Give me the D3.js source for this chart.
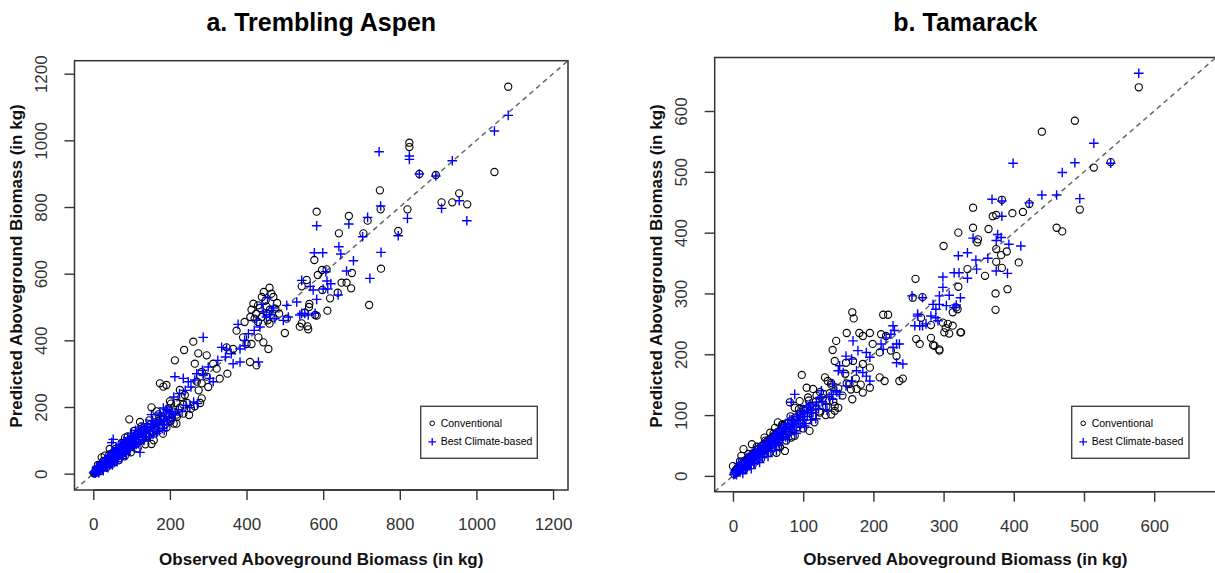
<!DOCTYPE html>
<html><head><meta charset="utf-8">
<script src="https://cdn.jsdelivr.net/npm/d3@7"></script>
<style>body{margin:0;background:#fff} text{font-family:"Liberation Sans",Arial,Helvetica,sans-serif}</style>
</head><body><svg id="c" width="1215" height="573"></svg>
<script>
const aspenTicks=[0,200,400,600,800,1000,1200];
const tamarackTicks=[0,100,200,300,400,500,600];
const seriesNames=["Conventional","Best Climate-based"];
const titles=["a. Trembling Aspen","b. Tamarack"];
const xLabel="Observed Aboveground Biomass (in kg)";
const yLabel="Predicted Aboveground Biomass (in kg)";

// [observed, predicted] pairs
const aspenConventional=[
[1083,1161],[1047,905],[825,980],[825,993],[851,899],[894,896],[748,850],[750,793],[820,793],[796,728],[909,814],[937,814],[955,841],[976,808],
[583,786],[667,773],[716,759],[705,721],[641,721],[577,641],[751,615],[675,602],[597,611],[609,613],[586,596],[648,573],[661,573],[673,556],
[638,543],[618,526],[564,509],[720,506],[611,489],[579,476],[583,474],[559,442],[544,451],[557,581],[544,562],[598,551],[552,483],
[94,163],[122,155],[143,113],[152,89],[83,108],[91,99],[43,74],[52,64],[30,54],[22,49],[161,133],[191,138],[217,150],[217,177],[204,167],
[152,199],[165,187],[200,217],[203,210],[217,212],[235,207],[283,226],[279,212],[265,202],[226,251],[239,236],[174,271],[183,261],[191,266],
[270,276],[283,271],[283,305],[296,291],[313,330],[322,315],[265,330],[213,340],[274,361],[296,355],[237,371],[261,396],[348,379],[365,374],
[391,409],[400,389],[413,389],[374,429],[426,325],[409,335],[457,374],[431,409],[444,394],[500,422],[539,441],[561,433],[563,500],[505,465],
[413,492],[435,497],[452,502],[461,492],[421,465],[440,470],[455,460],[470,468],[430,455],[460,450],
[445,545],[460,558],[470,530],[450,520],[480,512],[430,505],[418,510],[465,540],[440,530],[475,495],[485,480],[425,480],[410,470],[395,455],[455,480],
[2,1],[4,5],[5,3],[7,8],[8,6],[9,11],[11,8],[12,14],[14,11],[15,17],[16,12],[18,21],[19,15],[21,24],[22,18],[24,27],[25,20],[27,31],[28,23],
[30,35],[31,25],[33,38],[35,28],[36,42],[38,31],[40,45],[41,34],[43,49],[45,37],[47,53],[48,40],[50,57],[52,43],[54,61],[56,46],[58,65],
[60,50],[62,69],[64,53],[66,73],[68,57],[70,78],[72,60],[75,82],[77,63],[79,87],[81,67],[84,92],[86,71],[89,96],[91,75],[94,101],[96,80],
[99,106],[102,84],[105,111],[108,88],[111,116],[114,93],[118,121],[121,98],[125,128],[129,104],[133,133],[137,110],[141,140],[146,117],
[150,147],[155,124],[160,154],[165,131],[170,160],[176,140],[182,168],[188,148],[195,176],[202,158],[210,186],[218,170],[226,198],[235,180],
[245,212],[255,195],
[12,26],[18,8],[26,38],[34,18],[42,58],[50,30],[58,74],[66,40],[74,92],[82,52],[90,112],[98,64],[106,128],[116,76],[126,142],[136,88],
[146,160],[158,100],[170,178],[182,120],[196,196],[210,150],[230,230],[250,176],[275,250],[300,260],[330,285],[350,300]
];
const aspenClimate=[
[1083,1075],[1047,1028],[937,939],[746,966],[825,953],[825,943],[851,899],[894,893],[750,803],[820,766],[796,714],[909,796],[955,819],[975,759],
[583,744],[667,749],[716,769],[703,711],[641,681],[646,659],[577,663],[599,663],[751,664],[679,639],[661,608],[722,586],[610,578],[620,570],
[600,554],[612,554],[583,523],[639,536],[574,551],[544,481],[561,476],[544,580],[566,562],[607,606],
[378,448],[287,409],[335,379],[348,374],[383,374],[396,384],[365,330],[383,335],[431,335],[426,460],[452,470],[444,485],[496,460],[509,470],
[539,476],[552,481],[579,481],[505,505],[531,515],[466,490],[474,465],[213,291],[235,286],[248,276],[270,300],[287,296],[304,286],[313,276],
[265,281],[183,197],[191,192],[200,187],[152,177],[174,182],[122,64],[52,103],[48,93],[440,508],[455,528],[470,497],[460,477],[420,430],
[435,440],[405,420],[395,400],[360,360],[345,350],[325,340],[300,320],[285,310],[255,260],[240,250],[225,240],[210,230],
[1,2],[3,3],[4,6],[5,4],[6,8],[7,6],[8,10],[9,7],[10,12],[11,9],[12,14],[13,11],[14,16],[15,13],[16,18],[17,15],[18,20],[19,17],[20,23],
[21,19],[22,25],[23,21],[24,27],[25,23],[26,30],[27,25],[28,32],[29,27],[30,34],[31,29],[32,37],[33,31],[34,39],[35,33],[36,41],[37,35],
[38,44],[39,37],[40,46],[41,39],[42,48],[43,41],[44,51],[45,43],[46,53],[48,45],[49,56],[50,48],[52,59],[53,50],[55,62],[56,52],[58,66],
[59,55],[61,69],[62,58],[64,72],[65,60],[67,75],[68,63],[70,79],[72,66],[74,83],[75,69],[77,86],[79,72],[81,90],[83,76],[85,94],[87,80],
[89,98],[91,84],[94,102],[96,88],[99,107],[101,92],[104,111],[107,97],[110,116],[113,102],[116,121],[120,108],[124,127],[128,115],[132,134],
[137,122],[142,140],[147,130],[152,147],[158,138],[164,155],[170,147],[176,163],[183,156],[190,172],[198,166],[206,182],[214,176],[222,192],
[232,186],[242,205],[252,198],[262,215],[272,210],
[10,22],[15,6],[20,32],[25,12],[30,42],[35,20],[40,55],[45,28],[50,65],[55,36],[60,78],[65,45],[70,88],[75,52],[80,98],[85,62],[90,108],
[95,70],[100,120],[105,80],[110,130],[118,90],[125,140],[132,100],[140,150],[148,110],[155,160],[165,120],[175,175],[185,130],[195,190],[205,160],
[3,6],[6,2],[9,14],[12,5],[15,20],[18,10],[21,26],[24,15],[27,32],[30,20],[33,38],[36,25],[39,44],[42,30],[45,50],[48,35],[51,56],[54,40],
[57,62],[60,45],[63,68],[66,50],[69,74],[72,56],[75,80],[78,60],[81,86],[84,66],[87,92],[90,72],[93,98],[96,77],[100,104],[104,82],[108,112],
[112,88],[116,118],[120,95],[126,124],[132,102],[138,132],[144,110],[150,140],[156,118],[162,146],[168,126],[174,152],[180,136],[186,160],
[192,146],[8,18],[14,3],[20,28],[26,9],[32,40],[38,18],[44,52],[50,26],[56,64],[62,36],[68,76],[74,46],[80,90],[86,58]
];
const tamarackConventional=[
[578,639],[487,584],[440,566],[538,516],[514,507],[494,438],[461,408],[469,402],[383,454],[342,441],[370,427],[375,429],[398,432],[413,434],
[422,447],[342,408],[364,406],[321,400],[349,389],[348,384],[300,378],[375,373],[390,369],[382,363],[375,352],[407,351],[334,340],[359,329],
[383,342],[321,311],[374,300],[391,307],[374,273],[260,324],[256,293],[270,294],[318,277],[313,269],[268,260],[282,248],[303,243],[308,234],
[324,236],[261,225],[266,217],[282,227],[287,214],[294,208],
[170,269],[172,259],[214,265],[221,265],[320,274],[299,252],[306,250],[313,247],[325,236],[301,236],[285,215],[294,206],[162,235],[180,235],
[195,235],[185,230],[147,222],[211,233],[218,230],[142,207],[199,217],[209,203],[225,206],[233,197],[145,189],[161,186],[171,189],[185,184],
[195,178],[98,166],[209,162],[216,156],[237,156],[242,160],[131,162],[135,156],[140,153],[105,145],[114,143],[166,151],[176,143],[185,137],
[195,145],[133,123],[145,115],[124,104],[119,132],[107,129],[140,101],[145,107],[81,121],[88,112],[95,123],[100,110],[109,74],[64,88],[60,79],
[71,85],[79,71],[83,63],[67,47],[74,41],[62,38],[53,71],[45,63],[50,58],[27,52],[15,44],[22,30],[12,33],[0,16],[5,11],
[2,3],[3,8],[5,5],[6,12],[8,9],[9,15],[11,11],[12,19],[14,14],[15,22],[17,17],[18,26],[20,20],[21,28],[23,23],[24,31],[26,25],[27,35],
[29,29],[30,38],[32,32],[34,42],[35,35],[37,45],[39,38],[40,49],[42,41],[44,52],[46,44],[48,56],[50,47],[52,60],[54,50],[56,64],[58,53],
[60,68],[62,57],[64,72],[66,60],[68,77],[70,64],[72,82],[75,68],[78,86],[80,72],[83,91],[86,76],[89,96],[92,80],[95,102],[98,86],[102,108],
[106,92],[110,115],[114,98],[118,122],[123,106],[128,128],[133,114],[138,136],[143,122],[150,144],[156,132],[162,152],[168,142],[175,160],[182,150],
[10,24],[16,10],[22,36],[28,18],[34,48],[40,28],[46,58],[52,38],[58,70],[64,48],[70,84],[76,58],[82,98],[88,66],[94,110],[100,78],
[108,124],[116,88],[124,138],[132,100],[140,150],[150,112],[160,168],[170,126]
];
const tamarackClimate=[
[578,662],[514,547],[487,515],[469,499],[538,514],[399,514],[494,456],[440,462],[461,462],[422,449],[369,455],[383,452],[383,427],[342,391],
[377,397],[382,392],[375,387],[393,381],[410,378],[334,367],[321,362],[346,355],[363,358],[347,340],[375,337],[391,333],[315,334],[322,334],
[334,325],[299,327],[299,310],[255,296],[270,293],[294,296],[308,297],[324,293],[285,282],[304,280],[315,277],[263,266],[259,247],[270,247],
[289,260],[292,255],[237,217],
[263,263],[266,247],[275,250],[282,263],[289,274],[294,282],[318,281],[228,247],[230,239],[225,233],[218,227],[211,217],[214,208],[228,211],
[233,217],[242,184],[233,186],[171,222],[178,206],[190,203],[195,195],[161,197],[169,192],[152,181],[150,173],[157,170],[176,173],[185,170],
[190,164],[195,156],[169,156],[161,148],[142,151],[147,140],[140,134],[152,134],[126,140],[119,121],[124,129],[88,134],[83,121],[105,115],
[112,104],[95,101],[100,93],[81,93],[74,85],[67,77],
[1,2],[2,5],[3,3],[4,7],[5,5],[6,9],[7,7],[8,11],[9,9],[10,13],[11,11],[12,15],[13,13],[14,17],[15,15],[16,19],[17,17],[18,21],[19,19],
[20,23],[21,21],[22,25],[23,23],[24,27],[25,25],[26,29],[27,27],[28,31],[29,29],[30,33],[31,31],[32,35],[33,33],[34,37],[35,35],[36,39],
[37,37],[38,41],[40,40],[41,44],[43,43],[44,47],[46,45],[47,50],[49,48],[50,53],[52,51],[54,56],[56,54],[58,60],[60,57],[62,64],[64,61],
[66,68],[68,65],[70,72],[72,69],[75,76],[77,73],[80,80],[82,77],[85,85],[87,82],[90,90],[93,87],[96,96],[99,92],[102,102],[106,98],
[110,108],[114,104],[118,115],[122,110],[127,122],[132,118],[137,130],[142,126],[148,138],
[12,22],[18,10],[24,34],[30,20],[36,44],[42,30],[48,56],[54,40],[60,68],[66,50],[72,80],[78,60],[84,92],[90,70],[96,104],[102,82],
[110,118],[118,94],[126,130],[134,108],
[3,8],[5,2],[8,14],[10,6],[13,18],[15,10],[18,24],[20,14],[23,28],[25,18],[28,34],[30,22],[33,38],[35,26],[38,44],[40,32],[43,48],[45,36],
[48,54],[50,42],[53,58],[55,46],[58,64],[60,50],[63,70],[65,54],[68,74],[70,60],[73,80],[75,64],[78,86],[80,68],[84,92],[88,74],[92,98],
[96,80],[100,106],[104,86],[108,112],[112,92],[8,20],[14,4],[20,30],[26,12],[32,42],[38,22],[44,52],[50,32],[56,62],[62,42]
];

const panels=[
 {title:titles[0],conv:aspenConventional,clim:aspenClimate,ticks:aspenTicks,domain:[-49,1239],
  box:{x0:74.5,x1:568,y0:60.7,y1:490}},
 {title:titles[1],conv:tamarackConventional,clim:tamarackClimate,ticks:tamarackTicks,domain:[-26,688],
  box:{x0:714.7,x1:1216,y0:57.5,y1:491.7}}
];

const svg=d3.select("#c");
const plusPath="M-4.8,0H4.8M0,-4.8V4.8";
const blue="#0000ff";

panels.forEach((p,pi)=>{
  const b=p.box;
  const x=d3.scaleLinear().domain(p.domain).range([b.x0,b.x1]);
  const y=d3.scaleLinear().domain(p.domain).range([b.y1,b.y0]);
  const g=svg.append("g");
  const cx=(b.x0+b.x1)/2;

  g.append("text").attr("x",cx).attr("y",31).attr("text-anchor","middle")
   .attr("font-size",25).attr("font-weight","bold").attr("fill","#000").text(p.title);

  g.append("line").attr("x1",x(p.domain[0])).attr("y1",y(p.domain[0]))
   .attr("x2",x(p.domain[1])).attr("y2",y(p.domain[1]))
   .attr("stroke","#666").attr("stroke-width",1.5).attr("stroke-dasharray","5,4");

  g.append("g").selectAll("circle").data(p.conv).join("circle")
   .attr("cx",d=>x(d[0])).attr("cy",d=>y(d[1])).attr("r",3.6)
   .attr("fill","none").attr("stroke","#000").attr("stroke-width",1.1);
  g.append("g").selectAll("path").data(p.clim).join("path")
   .attr("transform",d=>`translate(${x(d[0])},${y(d[1])})`).attr("d",plusPath)
   .attr("stroke",blue).attr("stroke-width",1.4).attr("fill","none");

  const xa=g.append("g").attr("transform",`translate(0,${b.y1})`)
   .call(d3.axisBottom(x).tickValues(p.ticks).tickSize(10).tickFormat(d3.format("d")));
  xa.select(".domain").remove();
  xa.selectAll("line").attr("stroke","#333").attr("stroke-width",1.4);
  xa.selectAll("text").attr("y",40).attr("dy",null).attr("font-size",17)
   .attr("fill","#333").style("font-family",'"Liberation Sans",Arial,sans-serif');
  xa.append("line").attr("x1",x(p.ticks[0])).attr("x2",x(p.ticks[p.ticks.length-1]))
   .attr("stroke","#333").attr("stroke-width",1.4);

  const ya=g.append("g").attr("transform",`translate(${b.x0},0)`)
   .call(d3.axisLeft(y).tickValues(p.ticks).tickSize(10).tickFormat(d3.format("d")));
  ya.select(".domain").remove();
  ya.selectAll("line").attr("stroke","#333").attr("stroke-width",1.4);
  ya.selectAll("text").attr("x",null).attr("dy",null).attr("text-anchor","middle")
   .attr("transform","translate(-28,0) rotate(-90)").attr("font-size",17)
   .attr("fill","#333").style("font-family",'"Liberation Sans",Arial,sans-serif');

  g.append("rect").attr("x",b.x0).attr("y",b.y0).attr("width",b.x1-b.x0).attr("height",b.y1-b.y0)
   .attr("fill","none").attr("stroke","#333").attr("stroke-width",1.5);

  g.append("text").attr("x",cx).attr("y",565).attr("text-anchor","middle")
   .attr("font-size",17).attr("font-weight","bold").attr("fill","#111").text(xLabel);
  g.append("text").attr("transform",`translate(${b.x0-53},266) rotate(-90)`).attr("text-anchor","middle")
   .attr("font-size",17).attr("font-weight","bold").attr("fill","#111").text(yLabel);

  const lx1=b.x1-(pi===0?30.7:27), ly1=458.3, lw=pi===0?116.6:117.3, lh=52;
  const lg=g.append("g");
  lg.append("rect").attr("x",lx1-lw).attr("y",ly1-lh).attr("width",lw).attr("height",lh)
   .attr("fill","#fff").attr("stroke","#444").attr("stroke-width",1.4);
  const sx=lx1-lw+11.5, tx=lx1-lw+20;
  lg.append("circle").attr("cx",sx).attr("cy",ly1-lh+17).attr("r",2.3)
   .attr("fill","none").attr("stroke","#000").attr("stroke-width",1);
  lg.append("path").attr("transform",`translate(${sx},${ly1-lh+35.5})`).attr("d","M-3.8,0H3.8M0,-3.8V3.8")
   .attr("stroke",blue).attr("stroke-width",1.3);
  seriesNames.forEach((s,i)=>{
    lg.append("text").attr("x",tx).attr("y",ly1-lh+17+i*18.5).attr("dy","0.35em")
     .attr("font-size",10.5).attr("fill","#000").text(s);
  });
});
</script></body></html>
